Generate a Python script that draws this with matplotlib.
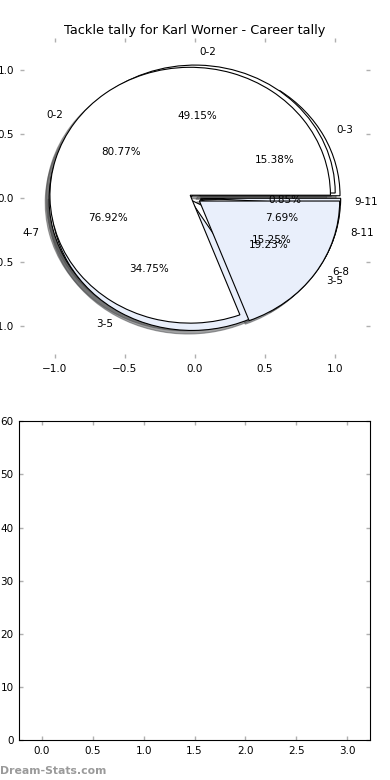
import numpy as np
import matplotlib.pyplot as plt

# ---------------- datos ----------------
titulo = "Tackle tally for Karl Worner - Career tally"

labels_b = ['0-3', '4-7', '8-11']
sizes_b = [2, 10, 1]

labels_a = ['0-2', '3-5', '6-8', '9-11']
sizes_a = [58, 41, 18, 1]

labels_c = ['0-2', '3-5']
sizes_c = [21, 5]

bar_x = [0, 1, 2, 3]
bar_h = [0, 0, 0, 0]

blanco = 'white'
celeste = '#e9effb'
gris_tick = '#b0b0b0'

plt.rcParams['font.family'] = ['DejaVu Sans']

fig = plt.figure(figsize=(3.9, 7.8), dpi=100)
ax1 = fig.add_axes([0.05, 0.541, 0.899, 0.41])
ax2 = fig.add_axes([0.049, 0.051, 0.9, 0.409])

# -------- tortas superpuestas --------
def torta(ax, sizes, labels, colores):
    ax.pie(sizes, labels=labels, colors=colores, autopct='%.2f%%',
           explode=[0.04] * len(sizes), shadow=True, startangle=0,
           wedgeprops={'linewidth': 0.8, 'edgecolor': 'black'},
           textprops={'fontsize': 7.5})

torta(ax1, sizes_b, labels_b, [blanco, blanco, blanco])
torta(ax1, sizes_a, labels_a, [blanco, celeste, blanco, celeste])
torta(ax1, sizes_c, labels_c, [blanco, celeste])

ax1.set_aspect('auto')
ax1.set_xlim(-1.25, 1.25)
ax1.set_ylim(-1.25, 1.25)
ax1.set_xticks([-1.0, -0.5, 0.0, 0.5, 1.0])
ax1.set_yticks([-1.0, -0.5, 0.0, 0.5, 1.0])
ax1.set_frame_on(False)
ax1.set_title(titulo, fontsize=9.3, pad=3)

# -------- barras (vacio) --------
ax2.bar(bar_x, bar_h, width=0.45, color=celeste)
ax2.set_xlim(-0.225, 3.225)
ax2.set_ylim(0, 60)
ax2.set_xticks([0.0, 0.5, 1.0, 1.5, 2.0, 2.5, 3.0])

for ax in (ax1, ax2):
    ax.tick_params(direction='in', length=3, width=1, color=gris_tick,
                   labelsize=7.5, top=True, right=True, pad=4)

fig.text(0.0, 0.008, 'Dream-Stats.com', fontsize=7.8, fontweight='semibold',
         color='#9a9a9a')

plt.savefig('out.png', dpi=100)
